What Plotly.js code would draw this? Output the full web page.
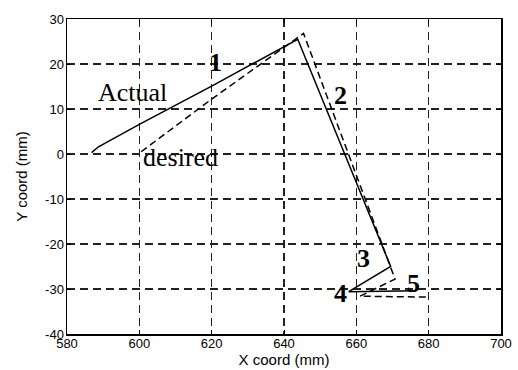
<!DOCTYPE html>
<html>
<head>
<meta charset="utf-8">
<script src="https://cdn.plot.ly/plotly-3.0.1.min.js"></script>
<style>html,body{margin:0;padding:0;background:#fff;}#chart{width:518px;height:370px;}</style>
</head>
<body>
<div id="chart"></div>
<script>
// Actual trajectory
var actualX = [586.8, 588.7, 600, 620, 643.8, 669.5, 657.9, 676.5];
var actualY = [0.3, 1.6, 6.6, 15.1, 25.5, -25.0, -30.6, -30.4];
// Desired trajectory
var desiredX = [600.5, 620, 645.4, 670.7, 661.0, 680.2];
var desiredY = [0.5, 12.2, 26.8, -27.8, -31.6, -31.8];

var xTicks = [580, 600, 620, 640, 660, 680, 700];
var xTickText = ["580", "600", "620", "640", "660", "680", "700"];
var yTicks = [-40, -30, -20, -10, 0, 10, 20, 30];
var yTickText = ["-40", "-30", "-20", "-10", "0", "10", "20", "30"];

var pointLabels = ["1", "2", "3", "4", "5"];
var pointLabelX = [621.0, 655.7, 662.0, 655.6, 675.8];
var pointLabelY = [20.3, 12.9, -23.3, -30.9, -28.8];
var seriesLabels = ["Actual", "desired"];
var seriesLabelX = [598.1, 611.5];
var seriesLabelY = [13.6, -0.7];

var traces = [
  {x: actualX, y: actualY, type: 'scatter', mode: 'lines',
   line: {color: '#000', width: 1.5}, hoverinfo: 'skip'},
  {x: desiredX, y: desiredY, type: 'scatter', mode: 'lines',
   line: {color: '#000', width: 1.5, dash: '7px,4px'}, hoverinfo: 'skip'}
];

var ann = [];
pointLabels.forEach(function(t, i){
  ann.push({x: pointLabelX[i], y: pointLabelY[i], text: '<b>' + t + '</b>', showarrow: false,
    xref: 'x', yref: 'y', font: {family: 'Liberation Serif, serif', size: 26, color: '#000'}});
});
seriesLabels.forEach(function(t, i){
  ann.push({x: seriesLabelX[i], y: seriesLabelY[i], text: t, showarrow: false,
    xref: 'x', yref: 'y', font: {family: 'Liberation Serif, serif', size: 26, color: '#000'}});
});

var sans = 'Liberation Sans, Arial, sans-serif';
var axisCommon = {
  showgrid: true, gridcolor: '#222', gridwidth: 1.5, griddash: '8px,5px',
  zeroline: false, showline: true, linecolor: '#000', linewidth: 1.5, mirror: 'ticks',
  ticks: 'inside', ticklen: 4, tickcolor: '#000', tickwidth: 1,
  tickfont: {family: sans, size: 13, color: '#000'}
};

var layout = {
  width: 518, height: 370,
  margin: {l: 67, r: 17, t: 19, b: 36},
  paper_bgcolor: '#fff', plot_bgcolor: '#fff',
  showlegend: false,
  xaxis: Object.assign({}, axisCommon, {
    range: [580, 700], tickvals: xTicks, ticktext: xTickText, ticklabelstandoff: -3,
    title: {text: 'X coord (mm)', standoff: 2, font: {family: sans, size: 15, color: '#000'}}
  }),
  yaxis: Object.assign({}, axisCommon, {
    range: [-40, 30], tickvals: yTicks, ticktext: yTickText, ticklabelstandoff: -1,
    title: {text: 'Y coord (mm)', standoff: 14, font: {family: sans, size: 15, color: '#000'}}
  }),
  annotations: ann
};

Plotly.newPlot('chart', traces, layout, {staticPlot: true, displayModeBar: false});
</script>
</body>
</html>
